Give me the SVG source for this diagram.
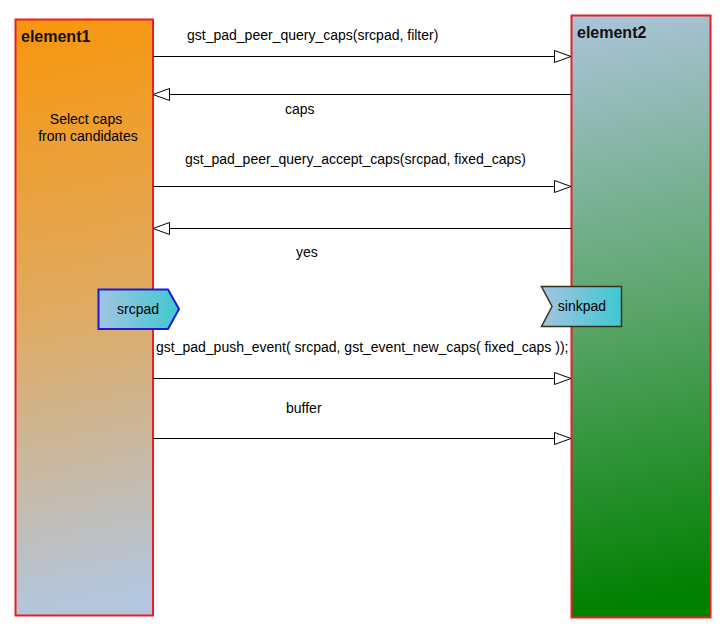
<svg xmlns="http://www.w3.org/2000/svg" width="724" height="634" viewBox="0 0 724 634">
<defs>
<linearGradient id="g1" x1="0" y1="0" x2="0.05" y2="1">
<stop offset="0" stop-color="#f8960c"/>
<stop offset="0.5" stop-color="#e0aa60"/>
<stop offset="1" stop-color="#b3c6dd"/>
</linearGradient>
<linearGradient id="g2" x1="0" y1="0" x2="0.05" y2="1">
<stop offset="0" stop-color="#acc4da"/>
<stop offset="0.5" stop-color="#5ca66c"/>
<stop offset="1" stop-color="#008000"/>
</linearGradient>
<linearGradient id="gp" x1="0" y1="0" x2="1" y2="0">
<stop offset="0" stop-color="#a3c3e1"/>
<stop offset="1" stop-color="#3ec8d0"/>
</linearGradient>
<marker id="ah" markerWidth="18" markerHeight="14" refX="17" refY="6.5" orient="auto" markerUnits="userSpaceOnUse">
<path d="M0.5,0.5 L17,6.5 L0.5,12.5 Z" fill="#fff" stroke="#000" stroke-width="1"/>
</marker>
</defs>
<style>
.el{stroke:#ee1c24;stroke-width:2}
.t{font-family:"Liberation Sans",Arial,sans-serif;font-size:14px;fill:#000}
.b{font-family:"Liberation Sans",Arial,sans-serif;font-size:16px;font-weight:bold;fill:#111}
.ln{stroke:#000;stroke-width:1;fill:none;marker-end:url(#ah)}
</style>
<rect width="724" height="634" fill="#fff"/>
<g id="element1">
<rect class="el" x="15.5" y="19.5" width="137.5" height="596" fill="url(#g1)"/>
<text class="b" x="21" y="42">element1</text>
<text class="t" x="86" y="124" text-anchor="middle">Select caps</text>
<text class="t" x="88" y="141" text-anchor="middle">from candidates</text>
</g>
<g id="element2">
<rect class="el" x="571.5" y="15.5" width="139" height="602" fill="url(#g2)"/>
<text class="b" x="577" y="38">element2</text>
</g>
<g id="srcpad">
<path d="M98.5,289.5 L168,289.5 L179,309 L168,329 L98.5,329 Z" fill="url(#gp)" stroke="#1a1ad6" stroke-width="2"/>
<text class="t" x="138" y="314" text-anchor="middle">srcpad</text>
</g>
<g id="sinkpad">
<path d="M541.5,286.5 L621.5,286.5 L621.5,326.5 L541.5,326.5 L552,306.5 Z" fill="url(#gp)" stroke="#333318" stroke-width="1.5"/>
<text class="t" x="582" y="311" text-anchor="middle">sinkpad</text>
</g>
<g id="connectors">
<line class="ln" x1="153" y1="56.5" x2="571" y2="56.5"/>
<line class="ln" x1="571" y1="94.5" x2="153" y2="94.5"/>
<line class="ln" x1="153" y1="186.5" x2="571" y2="186.5"/>
<line class="ln" x1="571" y1="228.5" x2="153" y2="228.5"/>
<line class="ln" x1="153" y1="378.5" x2="571" y2="378.5"/>
<line class="ln" x1="153" y1="438.5" x2="571" y2="438.5"/>
<text class="t" x="187" y="40">gst_pad_peer_query_caps(srcpad, filter)</text>
<text class="t" x="285" y="114">caps</text>
<text class="t" x="185" y="164">gst_pad_peer_query_accept_caps(srcpad, fixed_caps)</text>
<text class="t" x="296" y="257">yes</text>
<text class="t" x="156" y="352">gst_pad_push_event( srcpad, gst_event_new_caps( fixed_caps ));</text>
<text class="t" x="286" y="413">buffer</text>
</g>
</svg>
